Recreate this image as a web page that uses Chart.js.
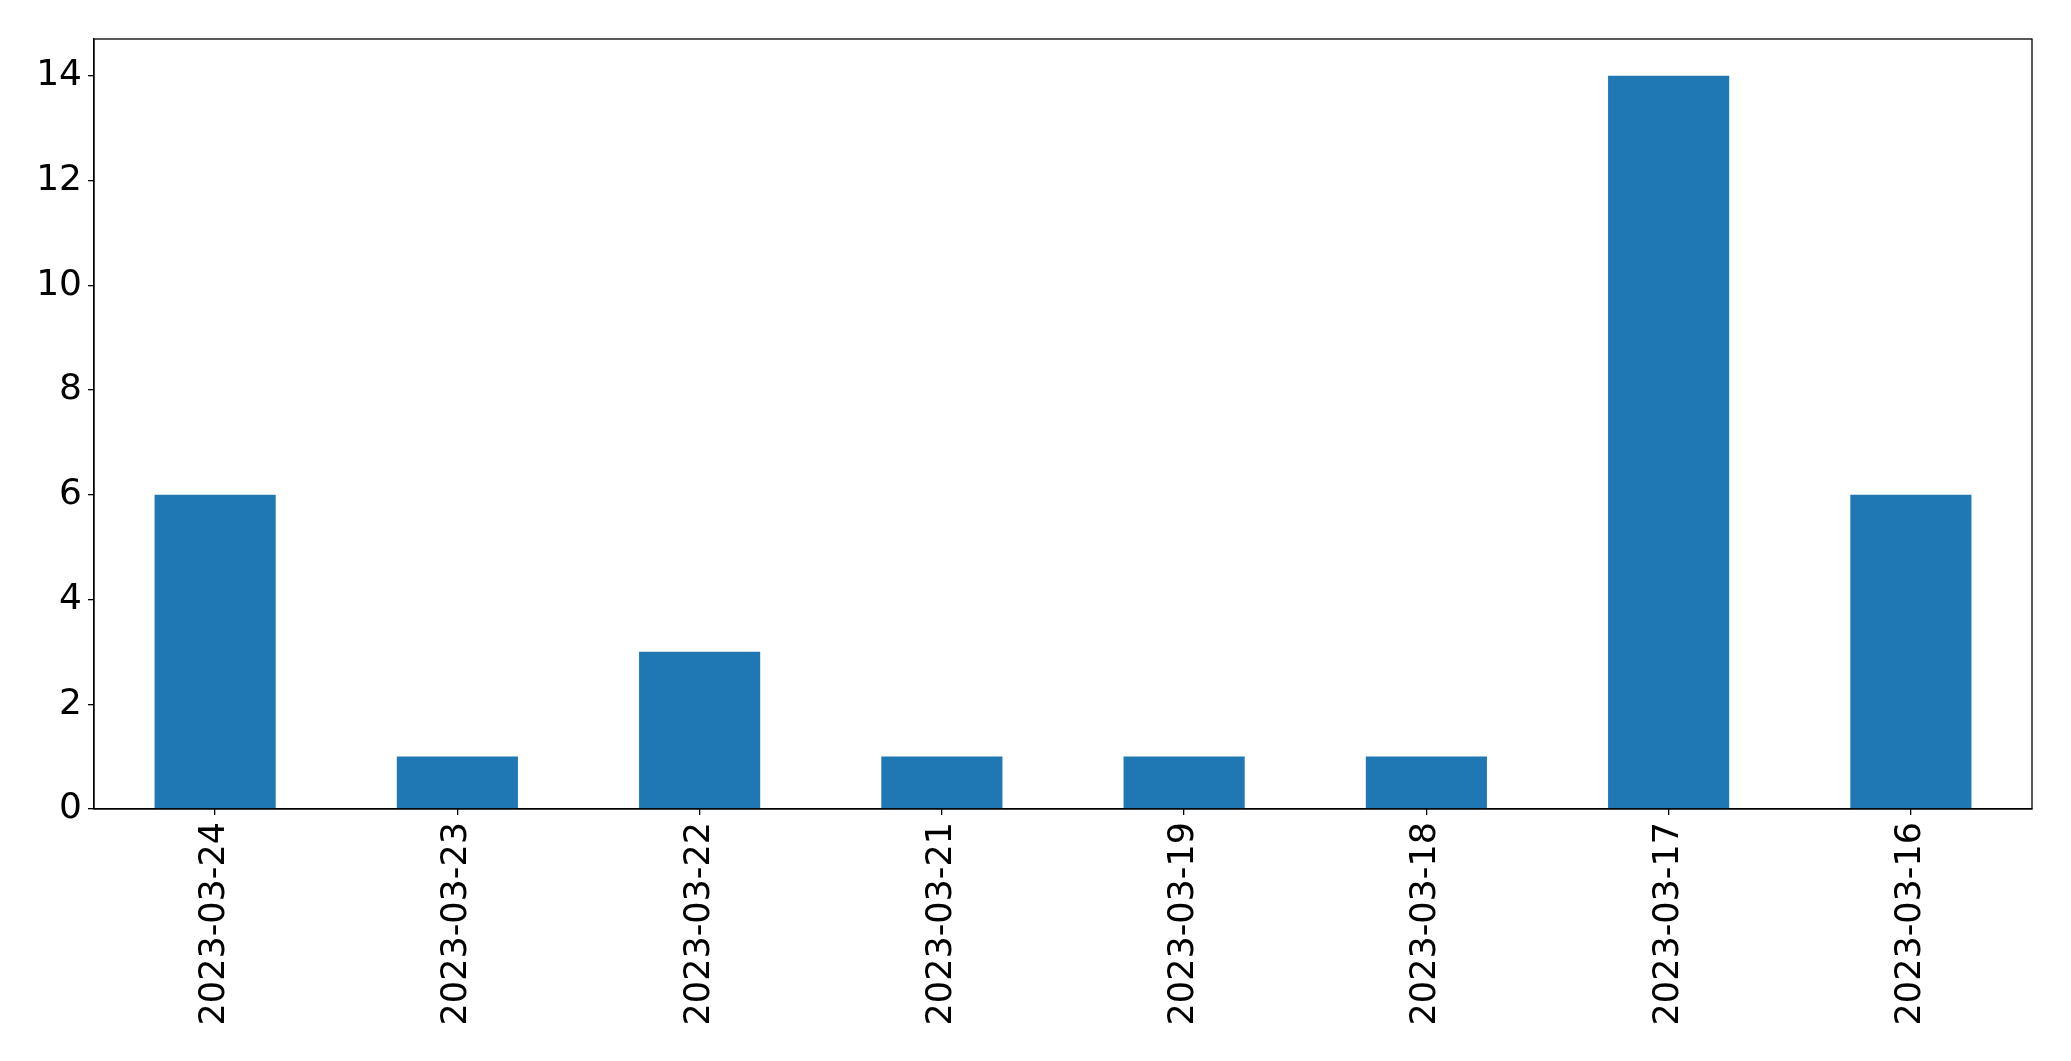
<!DOCTYPE html>
<html>
<head>
<meta charset="utf-8">
<script src="https://cdn.jsdelivr.net/npm/chart.js@4/dist/chart.umd.min.js"></script>
<style>
  html, body { margin: 0; padding: 0; background: #fff; }
  #wrap { width: 2071px; height: 1061px; }
</style>
</head>
<body>
<div id="wrap"><canvas id="chart" width="2071" height="1061"></canvas></div>
<script>
// DATA
const dates = ['2023-03-24', '2023-03-23', '2023-03-22', '2023-03-21', '2023-03-19', '2023-03-18', '2023-03-17', '2023-03-16'];
const counts = [6, 1, 3, 1, 1, 1, 14, 6];
const yTicks = [0, 2, 4, 6, 8, 10, 12, 14];

// box round the plot area (top and right spines)
const frame = {
  id: 'frame',
  afterDraw(chart) {
    const { ctx, chartArea: a } = chart;
    ctx.save();
    ctx.strokeStyle = '#000';
    ctx.lineWidth = 1.3;
    ctx.strokeRect(a.left, a.top, a.right - a.left, a.bottom - a.top);
    ctx.restore();
  }
};

Chart.defaults.font.family = 'DejaVu Sans';
Chart.defaults.font.size = 35;
Chart.defaults.color = '#000';

new Chart(document.getElementById('chart'), {
  type: 'bar',
  data: {
    labels: dates,
    datasets: [{
      data: counts,
      backgroundColor: '#1f77b4',
      borderWidth: 0,
      barPercentage: 0.5,
      categoryPercentage: 1
    }]
  },
  options: {
    responsive: false,
    animation: false,
    layout: { padding: { top: 39, right: 39, left: 0, bottom: 0 } },
    plugins: { legend: { display: false }, tooltip: { enabled: false } },
    scales: {
      x: {
        offset: true,
        afterFit: s => { s.height = 252; },
        grid: { display: true, offset: false, drawOnChartArea: false, drawTicks: true, tickLength: 6, color: '#000', lineWidth: 1.3 },
        border: { display: true, color: '#000', width: 1.3 },
        ticks: { minRotation: 90, maxRotation: 90, padding: 7, autoSkip: false }
      },
      y: {
        min: 0,
        max: 14.7,
        afterFit: s => { s.width = 94; },
        afterBuildTicks: s => { s.ticks = yTicks.map(v => ({ value: v })); },
        grid: { display: true, drawOnChartArea: false, drawTicks: true, tickLength: 6, color: '#000', lineWidth: 1.3 },
        border: { display: true, color: '#000', width: 1.3 },
        ticks: { padding: 6, font: { size: 36 } }
      }
    }
  },
  plugins: [frame]
});
</script>
</body>
</html>
